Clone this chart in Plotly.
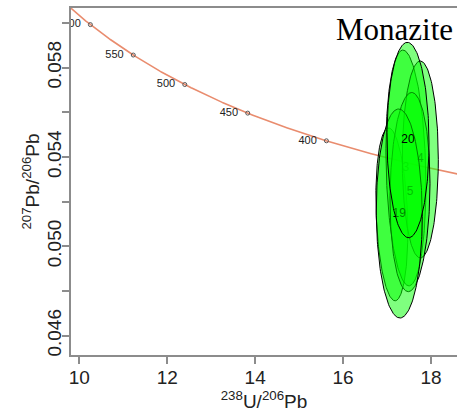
import numpy as np
import plotly.graph_objects as go

# --- decay constants (Tera-Wasserburg concordia) ---
LAMBDA_238 = 1.55125e-10
LAMBDA_235 = 9.8485e-10
U238_U235 = 137.818

# --- concordia age ticks (Ma) ---
age_ticks = [600, 550, 500, 450, 400]
age_labels = ["600", "550", "500", "450", "400"]

# --- analyses (error ellipses) ---
labels = ["", "3", "4", "5", "19", "20"]
x_centre = [17.11, 17.43, 17.757, 17.523, 17.279, 17.477]   # 238U/206Pb
y_centre = [0.05143, 0.05351, 0.05389, 0.05243, 0.05147, 0.05476]  # 207Pb/206Pb
x_err = [0.364, 0.455, 0.41, 0.455, 0.523, 0.478]
y_err = [0.00387, 0.00528, 0.00441, 0.00446, 0.00468, 0.004375]
rho = [-0.2, -0.15, 0.0, 0.085, -0.03, -0.03]

# axis ticks
x_ticks = [10, 12, 14, 16, 18]
y_ticks = [0.046, 0.050, 0.054, 0.058]
y_ticktext = ["0.046", "0.050", "0.054", "0.058"]


def tw(t_ma):
    t = np.asarray(t_ma, dtype=float) * 1e6
    e8 = np.exp(LAMBDA_238 * t) - 1
    e5 = np.exp(LAMBDA_235 * t) - 1
    return 1 / e8, e5 / e8 / U238_U235


fig = go.Figure()

# concordia line
t_line = np.linspace(300, 700, 400)
cx, cy = tw(t_line)
fig.add_trace(go.Scatter(x=cx, y=cy, mode="lines",
                         line=dict(color="rgb(233,140,110)", width=1.6),
                         hoverinfo="skip", showlegend=False))

# age markers
ax_, ay_ = tw(age_ticks)
fig.add_trace(go.Scatter(x=ax_, y=ay_, mode="markers+text",
                         text=[a + "  " for a in age_labels],
                         textposition="middle left",
                         textfont=dict(family="Liberation Sans, Arial", size=11, color="#222222"),
                         marker=dict(symbol="circle-open", size=4, color="#555555",
                                     line=dict(width=1)),
                         cliponaxis=True, showlegend=False, hoverinfo="skip"))

# ellipses
theta = np.linspace(0, 2 * np.pi, 200)
for lab, mx, my, sx, sy, r in zip(labels, x_centre, y_centre, x_err, y_err, rho):
    ex = mx + sx * np.cos(theta)
    ey = my + sy * (r * np.cos(theta) + np.sqrt(1 - r * r) * np.sin(theta))
    fig.add_trace(go.Scatter(x=ex, y=ey, mode="lines", fill="toself",
                             fillcolor="rgba(0,255,0,0.5)",
                             line=dict(color="black", width=1),
                             showlegend=False, hoverinfo="skip"))
    if lab:
        fig.add_trace(go.Scatter(x=[mx], y=[my], mode="text", text=[lab],
                                 textfont=dict(family="Liberation Sans, Arial", size=12, color="black"),
                                 showlegend=False, hoverinfo="skip"))

axis_common = dict(showline=True, linecolor="#8c8c8c", linewidth=2,
                   ticks="outside", ticklen=7, tickwidth=1.5, tickcolor="#8c8c8c",
                   showgrid=False, zeroline=False,
                   tickfont=dict(family="Liberation Sans, Arial", size=19, color="#222"))

fig.update_layout(
    width=457, height=415,
    margin=dict(l=71, r=0, t=8, b=60),
    paper_bgcolor="white", plot_bgcolor="white",
    xaxis=dict(range=[9.811, 18.592], tickvals=x_ticks, mirror=True,
               ticklabelstandoff=-3,
               title=dict(text="<sup>238</sup>U/<sup>206</sup>Pb", standoff=4,
                          font=dict(family="Liberation Sans, Arial", size=19, color="#222")),
               **axis_common),
    yaxis=dict(range=[0.045134, 0.060672], tickvals=y_ticks, ticktext=y_ticktext,
               tickangle=-90, mirror=False, ticklabelstandoff=-7,
               minor=dict(tick0=0.046, dtick=0.002, ticks="outside", ticklen=7,
                          tickwidth=1.5, tickcolor="#8c8c8c", showgrid=False),
               title=dict(text="<sup>207</sup>Pb/<sup>206</sup>Pb", standoff=0,
                          font=dict(family="Liberation Sans, Arial", size=19, color="#222")),
               **axis_common),
    annotations=[dict(text="Monazite", xref="paper", yref="paper", x=0.995, y=0.995,
                      xanchor="right", yanchor="top", showarrow=False,
                      font=dict(family="Liberation Serif, Times New Roman", size=31, color="black"))],
)

fig.write_html("out.html")
